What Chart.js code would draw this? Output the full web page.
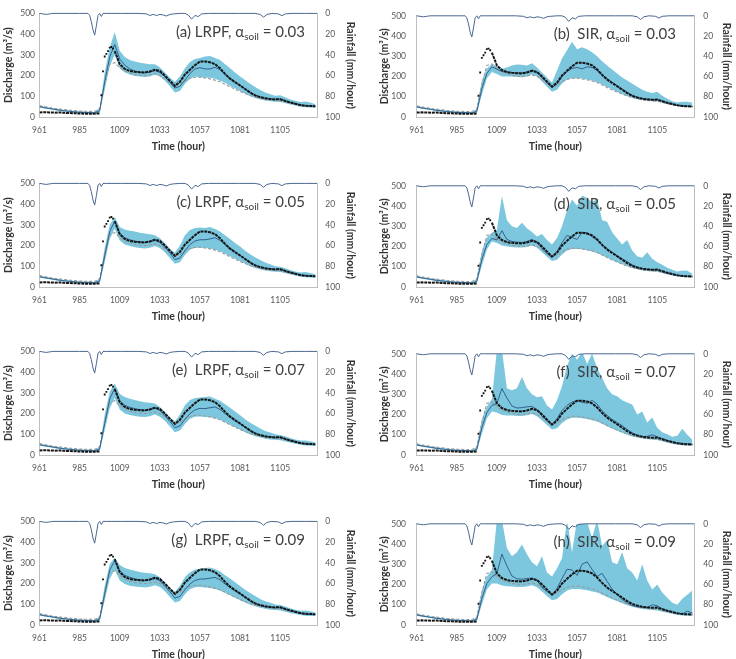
<!DOCTYPE html>
<html>
<head>
<meta charset="utf-8">
<script src="https://cdn.jsdelivr.net/npm/chart.js@4"></script>
<style>
  html, body { margin: 0; padding: 0; background: #fff; overflow: hidden; }
  #wrap { position: relative; width: 736px; height: 659px; }
  .panel { position: absolute; width: 368px; height: 155px; }
</style>
</head>
<body>
<div id="wrap"></div>
<script>
'use strict';

// ── data ──
const hours = [961,964,967,970,973,976,979,982,985,988,991,994,997,1000,1003,1006,1009,1012,1015,1018,1021,1024,1027,1030,1033,1036,1039,1042,1045,1048,1051,1054,1057,1060,1063,1066,1069,1072,1075,1078,1081,1084,1087,1090,1093,1096,1099,1102,1105,1108,1111,1114,1117,1120,1123,1126];
const tickHours = [961, 985, 1009, 1033, 1057, 1081, 1105];

const observed = [22,23,22,21,22,20,19,18,17,16,16,16, 17,null,null,318,255,232,222,218,216,215, 220,228,222,200,175,150,170,205,228,250, 268,268,264,255,235,208,185,168,152,135, 118,104,96,90,87,85,86,78,70,64, 58,54,53,52];
const obsRiseHours = [998, 999, 1000, 1001, 1002, 1003, 1004, 1005];
const obsRise = [105, 220, 292, 305, 318, 335, 338, 330];
const openLoop = [55,50,46,42,39,36,33,31,29,28,27,27, 40,160,255,262,238,222,212,205,202,200, 203,208,200,185,165,150,158,175,186,191, 192,188,184,178,170,158,146,134,123,113, 104,96,90,85,82,80,78,72,66,62, 58,55,53,52];

const rainHours = [961,963,965,967,969,975,985,990,991,992,993,994,995,996,997,998,999,1001,1010,1020,1025,1027,1029,1031,1033,1035,1037,1039,1041,1045,1048,1050,1052,1054,1056,1058,1062,1070,1080,1090,1093,1095,1097,1100,1104,1106,1108,1112,1120,1127];
const rain = [0,0.5,1,0.5,0, 0,0,0, 2,8,16,21,12,2,0,3,0, 0,0,0, 0.5,2,1,2,1,1.5,2.5,1,0.5, 0,0,1.5,5.5,2,3,0.5, 0,0,0,0, 1,3.7,1,0, 0.5,2.2,0.5,0,0,0];

// first 12 hours (961-994), same in every panel
const earlyUpper = [54,49,45,41,37,34,31,29,27,26,25,24];
const earlyLower = [46,41,37,33,29,26,23,21,19,18,17,16];
const earlyMean  = [50,45,41,37,33,30,27,25,23,22,21,20];

// 997-1126, per panel: ensemble upper / lower bound and ensemble mean
const aUpper = [45,215,335,410,320,290,275,268,262,258, 255,255,240,215,190,170,195,235,265,280, 285,292,295,285,275,255,235,215,195,178, 160,145,130,118,110,102,105,95,85,78, 72,75,70,62];
const aLower = [20,130,245,300,235,215,205,198,195,193, 195,205,195,175,148,118,125,160,185,195, 192,190,190,185,175,165,150,138,125,112, 100,92,85,80,76,74,72,66,60,55, 50,47,46,45];
const aMean  = [30,170,290,350,280,250,232,222,216,213, 216,224,215,195,168,140,148,178,210,232, 238,232,232,240,228,205,186,168,152,136, 120,106,97,91,88,86,86,78,70,64, 58,55,53,52];

const bUpper = [40,180,240,262,252,238,245,255,260,258, 255,265,245,220,195,170,230,290,330,372, 335,345,335,320,300,275,255,235,215,195, 180,165,150,135,125,118,125,105,90,78, 72,75,75,70];
const bLower = [20,110,190,222,212,200,200,200,198,197, 200,210,200,175,150,125,135,165,185,192, 192,190,185,180,172,160,148,136,124,113, 103,95,88,83,80,78,76,70,63,58, 53,50,49,48];
const bMean  = [28,140,215,248,236,225,222,220,218,217, 222,232,222,195,170,145,162,200,225,240, 245,238,248,245,230,210,190,172,155,138, 122,108,98,92,88,86,86,78,70,64, 58,55,53,52];

const cUpper = [42,190,300,338,290,278,272,268,262,258, 255,250,235,212,185,165,200,250,275,285, 287,285,290,280,268,250,232,212,195,175, 158,143,130,118,110,100,98,90,82,75, 70,72,68,62];
const cLower = [20,120,230,282,225,205,198,192,188,186, 190,198,188,168,140,112,120,155,180,190, 190,188,186,180,172,160,148,136,124,112, 100,92,85,80,76,74,72,66,60,55, 50,47,46,45];
const cMean  = [28,150,268,318,258,238,228,222,218,215, 218,225,215,192,165,132,140,175,205,222, 228,228,232,238,225,205,186,168,152,136, 120,106,97,91,88,86,86,78,70,64, 58,55,53,52];

const dUpper = [40,175,245,268,282,450,330,300,292,318, 290,272,250,262,232,210,242,300,380,432, 400,452,440,420,435,330,322,270,240,210, 232,180,152,145,172,140,122,110,95,85, 76,82,80,66];
const dLower = [20,105,185,225,218,205,200,198,195,195, 198,205,195,172,150,128,135,160,180,188, 188,186,182,176,168,157,145,134,122,112, 102,94,88,82,79,77,75,69,62,57, 52,49,48,47];
const dMean  = [28,135,210,240,232,278,235,225,222,220, 225,235,222,190,165,148,175,220,255,245, 235,270,268,248,232,210,190,172,155,140, 125,110,98,92,88,86,86,78,70,64, 58,55,53,52];

const eUpper = [42,195,305,345,295,280,272,266,260,255, 252,248,232,208,182,162,195,240,265,275, 278,280,282,272,262,245,228,210,192,172, 156,142,128,116,108,100,97,90,82,75, 70,70,66,60];
const eLower = [20,120,225,275,220,200,193,188,185,183, 187,195,185,165,137,110,118,150,175,185, 186,184,182,177,170,158,146,134,122,110, 99,91,84,79,75,73,71,65,59,54, 49,46,45,44];
const eMean  = [28,152,270,322,262,240,230,224,219,216, 218,226,215,190,162,132,140,172,200,218, 225,224,228,232,220,200,183,166,150,134, 118,105,96,90,87,85,85,77,69,63, 57,54,52,51];

const fUpper = [40,175,240,275,520,520,330,320,330,385, 330,300,285,290,245,225,270,340,440,500, 470,510,450,500,430,380,330,300,290,270, 260,250,200,215,160,185,135,112,102,90, 95,130,100,75];
const fLower = [20,105,180,215,210,198,195,195,193,193, 196,202,192,170,148,126,132,158,176,184, 184,182,178,172,165,154,142,131,120,110, 100,92,86,81,78,76,74,68,61,56, 51,48,47,46];
const fMean  = [28,135,210,245,255,328,282,242,232,234, 238,240,225,192,170,150,180,220,245,262, 270,260,256,270,252,218,196,176,160,145, 126,110,97,91,92,100,90,80,72,65, 60,58,55,52];

const gUpper = [42,190,295,325,290,275,268,262,256,252, 250,245,230,205,180,160,190,232,255,268, 272,275,278,270,258,240,224,206,188,170, 154,140,126,115,107,99,96,89,81,74, 69,70,66,60];
const gLower = [20,118,222,268,215,198,190,186,183,181, 185,192,183,163,135,108,116,148,172,182, 183,181,179,174,167,156,144,132,120,109, 98,90,83,78,74,72,70,64,58,53, 48,45,44,43];
const gMean  = [28,150,265,310,262,240,230,223,218,215, 217,224,213,188,160,130,138,170,198,215, 222,222,226,230,218,198,181,165,149,133, 117,104,95,89,86,84,84,76,68,62, 56,53,51,50];

const hUpper = [40,170,240,272,520,520,380,340,360,398, 350,310,290,340,260,240,280,330,520,360, 520,520,510,430,520,390,420,310,300,360, 280,260,220,300,220,175,200,160,135,110, 100,130,150,170];
const hLower = [20,100,175,205,205,195,192,190,188,188, 190,196,186,165,143,122,128,152,170,178, 178,176,172,166,160,150,138,127,117,107, 97,90,84,79,76,74,72,66,60,55, 50,47,46,45];
const hMean  = [28,130,205,238,255,350,292,242,228,226, 230,232,220,186,165,150,180,230,275,272, 245,300,312,275,240,255,215,178,150,126, 110,96,90,88,86,100,95,80,72,65, 58,55,68,60];

const panels = [
  { col: 0, row: 0, head: '(a) LRPF, \u03b1', tail: ' = 0.03', up: aUpper, lo: aLower, mean: aMean },
  { col: 1, row: 0, head: '(b)  SIR, \u03b1',  tail: ' = 0.03', up: bUpper, lo: bLower, mean: bMean },
  { col: 0, row: 1, head: '(c) LRPF, \u03b1', tail: ' = 0.05', up: cUpper, lo: cLower, mean: cMean },
  { col: 1, row: 1, head: '(d)  SIR, \u03b1',  tail: ' = 0.05', up: dUpper, lo: dLower, mean: dMean },
  { col: 0, row: 2, head: '(e)  LRPF, \u03b1', tail: ' = 0.07', up: eUpper, lo: eLower, mean: eMean },
  { col: 1, row: 2, head: '(f)  SIR, \u03b1',  tail: ' = 0.07', up: fUpper, lo: fLower, mean: fMean },
  { col: 0, row: 3, head: '(g)  LRPF, \u03b1', tail: ' = 0.09', up: gUpper, lo: gLower, mean: gMean },
  { col: 1, row: 3, head: '(h)  SIR, \u03b1',  tail: ' = 0.09', up: hUpper, lo: hLower, mean: hMean },
];

// ── layout / style ──
Chart.defaults.font.family = "Lato, 'Open Sans', sans-serif";
Chart.defaults.color = '#595959';

const COLS = [
  { left: 0,   yW: 39.5, yPad: 4.5,  yTitle: 2.2,  y2W: 51, y2Pad: 8.3, y2Title: 11.7, labelGap: 12 },
  { left: 368, yW: 48.7, yPad: 10.7, yTitle: 10.7, y2W: 42, y2Pad: 9.3, y2Title: 3.0,  labelGap: 18 },
];
const ROW_TOP = [0, 170, 338, 508];
const AXIS_LINE = '#bfbfbf';
const TICK_FONT = { size: 8.5 };
const TITLE_FONT = { size: 10.5, weight: 'bold' };
const TITLE_COLOR = '#333';

const toXY = (xs, ys) => xs.map((x, i) => ({ x, y: ys[i] }));

// panel caption "(a) LRPF, α_soil = 0.03"
const panelLabel = {
  id: 'panelLabel',
  afterDatasetsDraw(chart, args, o) {
    const { ctx, chartArea } = chart;
    ctx.save();
    ctx.fillStyle = '#404040';
    ctx.textBaseline = 'alphabetic';
    ctx.textAlign = 'left';
    const big = '15px Lato', small = '10px Lato';
    ctx.font = big;
    const w1 = ctx.measureText(o.head).width;
    const w3 = ctx.measureText(o.tail).width;
    ctx.font = small;
    const w2 = ctx.measureText('soil').width;
    let x = chartArea.right - o.gap - (w1 + w2 + w3);
    const y = chartArea.top + 23.5;
    ctx.font = big;
    ctx.fillText(o.head, x, y);
    x += w1;
    ctx.font = small;
    ctx.fillText('soil', x, y + 3);
    x += w2;
    ctx.font = big;
    ctx.fillText(o.tail, x, y);
    ctx.restore();
  }
};

function makePanel(p) {
  const col = COLS[p.col];
  const box = document.createElement('div');
  box.className = 'panel';
  box.style.left = col.left + 'px';
  box.style.top = ROW_TOP[p.row] + 'px';
  const cv = document.createElement('canvas');
  cv.width = 368;
  cv.height = 155;
  box.appendChild(cv);
  document.getElementById('wrap').appendChild(box);

  const upper = earlyUpper.concat(p.up);
  const lower = earlyLower.concat(p.lo);
  const mean = earlyMean.concat(p.mean);

  new Chart(cv, {
    type: 'line',
    data: {
      datasets: [
        { label: 'upper', data: toXY(hours, upper), borderWidth: 0, pointRadius: 0,
          backgroundColor: '#7cc7dd', fill: 1, order: 7 },
        { label: 'lower', data: toXY(hours, lower), borderWidth: 0, pointRadius: 0,
          fill: false, order: 6 },
        { label: 'open loop', data: toXY(hours, openLoop), borderColor: '#9a9a9a',
          borderWidth: 1.1, borderDash: [3, 2], pointRadius: 0, fill: false, order: 5 },
        { label: 'mean', data: toXY(hours, mean), borderColor: '#34608f',
          borderWidth: 1, pointRadius: 0, fill: false, order: 4 },
        { label: 'observed', data: toXY(hours, observed), borderColor: '#151515',
          borderWidth: 2, borderDash: [3, 0.8], pointRadius: 0, fill: false, order: 3 },
        { label: 'observed rise', data: toXY(obsRiseHours, obsRise), showLine: false,
          pointStyle: 'rect', pointRadius: 1.3, backgroundColor: '#111', borderWidth: 0, order: 2 },
        { label: 'rainfall', data: toXY(rainHours, rain), yAxisID: 'y2', borderColor: '#4a6790',
          borderWidth: 1, pointRadius: 0, fill: false, clip: 4, order: 1 },
      ]
    },
    options: {
      responsive: false,
      animation: false,
      devicePixelRatio: 1,
      events: [],
      layout: { padding: { top: 10, left: 0, right: 0, bottom: 0 } },
      plugins: {
        legend: { display: false },
        tooltip: { enabled: false },
        panelLabel: { head: p.head, tail: p.tail, gap: col.labelGap },
      },
      scales: {
        x: {
          type: 'linear', min: 961, max: 1127,
          grid: { display: false, drawTicks: false },
          border: { display: true, color: AXIS_LINE },
          afterBuildTicks: (axis) => { axis.ticks = tickHours.map(v => ({ value: v })); },
          afterFit: (s) => { s.height = 38; },
          ticks: { font: TICK_FONT, padding: 8.5, maxRotation: 0, autoSkip: false, callback: v => String(v) },
          title: { display: true, text: 'Time (hour)', font: TITLE_FONT, color: TITLE_COLOR,
                   padding: { top: 0, bottom: 2.0 } },
        },
        y: {
          position: 'left', min: 0, max: 500,
          grid: { display: false, drawTicks: false },
          border: { display: true, color: AXIS_LINE },
          afterFit: (s) => { s.width = col.yW; },
          ticks: { stepSize: 100, font: TICK_FONT, padding: col.yPad },
          title: { display: true, text: 'Discharge (m\u00b3/s)', font: TITLE_FONT, color: TITLE_COLOR,
                   padding: { top: col.yTitle, bottom: 0 } },
        },
        y2: {
          position: 'right', min: 0, max: 100, reverse: true,
          grid: { display: false, drawTicks: false },
          border: { display: true, color: AXIS_LINE },
          afterFit: (s) => { s.width = col.y2W; },
          ticks: { stepSize: 20, font: TICK_FONT, padding: col.y2Pad },
          title: { display: true, text: 'Rainfall (mm/hour)', font: TITLE_FONT, color: TITLE_COLOR,
                   padding: { top: col.y2Title, bottom: 0 } },
        },
      },
    },
    plugins: [panelLabel],
  });
}

panels.forEach(makePanel);
</script>
</body>
</html>
